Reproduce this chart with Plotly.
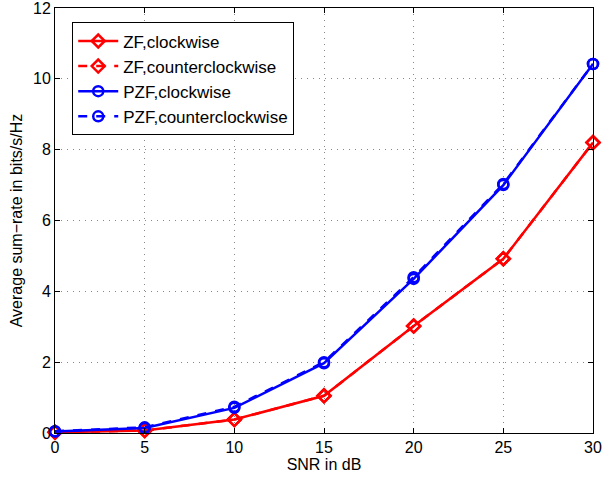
import plotly.graph_objects as go

snr = [0, 5, 10, 15, 20, 25, 30]
zf_cw = [0.02, 0.07, 0.38, 1.05, 3.02, 4.92, 8.2]
zf_ccw = [0.02, 0.07, 0.38, 1.05, 3.02, 4.92, 8.2]
pzf_cw = [0.04, 0.14, 0.71, 1.97, 4.35, 7.0, 10.42]
pzf_ccw = [0.05, 0.16, 0.74, 2.0, 4.4, 7.03, 10.42]

x_ticks = [0, 5, 10, 15, 20, 25, 30]
y_ticks = [0, 2, 4, 6, 8, 10, 12]

FONT = "Liberation Sans, Arial"

fig = go.Figure()
series = [
    ("ZF,clockwise", zf_cw, "red", "solid", "diamond-open"),
    ("ZF,counterclockwise", zf_ccw, "red", "dash", "diamond-open"),
    ("PZF,clockwise", pzf_cw, "blue", "solid", "circle-open"),
    ("PZF,counterclockwise", pzf_ccw, "blue", "dash", "circle-open"),
]
for name, ys, col, dash, sym in series:
    fig.add_trace(go.Scatter(
        x=snr, y=ys, name=name, mode="lines+markers",
        line=dict(color=col, width=2.5, dash=dash),
        marker=dict(symbol=sym, size=10, color=col, line=dict(color=col, width=2.5)),
        cliponaxis=False,
    ))

axis_common = dict(
    showline=True, linecolor="black", linewidth=1, mirror="ticks",
    ticks="inside", ticklen=5, tickcolor="black",
    showgrid=True, gridcolor="#888", griddash="1px,5px", gridwidth=1,
    zeroline=False, automargin=False, ticklabeloverflow="allow",
    tickfont=dict(family=FONT, size=16, color="black"),
)
fig.update_xaxes(range=[0, 30], tickvals=x_ticks,
                 title=dict(text="SNR in dB", font=dict(family=FONT, size=16, color="black"), standoff=2),
                 **axis_common)
fig.update_yaxes(range=[0, 12], tickvals=y_ticks,
                 title=dict(text="Average sum\u2212rate in bits/s/Hz", font=dict(family=FONT, size=16, color="black"), standoff=6),
                 **axis_common)

fig.update_layout(
    width=603, height=477,
    margin=dict(l=55, r=10, t=8, b=44),
    plot_bgcolor="white", paper_bgcolor="white",
    font=dict(family=FONT, color="black"),
    legend=dict(x=0.032, y=0.966, xanchor="left", yanchor="top",
                bgcolor="white", bordercolor="black", borderwidth=1,
                font=dict(family=FONT, size=17, color="black"), tracegroupgap=0,
                itemwidth=40),
    showlegend=True,
)

fig.write_html("out.html", config={"displayModeBar": False},
               post_script="document.body.style.margin='0';document.body.style.overflow='hidden';")
